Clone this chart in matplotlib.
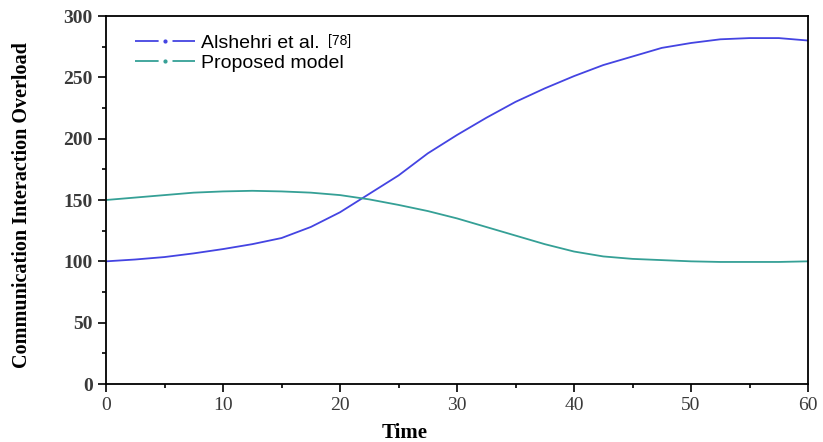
import matplotlib
matplotlib.use('Agg')
from matplotlib import pyplot as plt
from matplotlib.lines import Line2D
from matplotlib.ticker import MultipleLocator

# data
time = [0, 2.5, 5, 7.5, 10, 12.5, 15, 17.5, 20, 22.5, 25, 27.5, 30,
        32.5, 35, 37.5, 40, 42.5, 45, 47.5, 50, 52.5, 55, 57.5, 60]
alshehri = [100, 101.5, 103.5, 106.5, 110, 114, 119, 128, 140, 155, 170, 188, 203,
            217, 230, 241, 251, 260, 267, 274, 278, 281, 282, 282, 280]
proposed = [150, 152, 154, 156, 157, 157.5, 157, 156, 154, 150.5, 146, 141, 135,
            128, 121, 114, 108, 104, 102, 101, 100, 99.5, 99.5, 99.5, 100]

blue = '#4444e2'
teal = '#35a096'
tick_col = '#3a3a3a'

fig = plt.figure(figsize=(8.23, 4.42), dpi=100)
ax = fig.add_axes([0.1288, 0.1312, 0.853, 0.8326])

ax.plot(time, alshehri, color=blue, lw=1.3)
ax.plot(time, proposed, color=teal, lw=1.3)

ax.set_xlim(0, 60)
ax.set_ylim(0, 300)
ax.xaxis.set_major_locator(MultipleLocator(10))
ax.xaxis.set_minor_locator(MultipleLocator(5))
ax.yaxis.set_major_locator(MultipleLocator(50))
ax.yaxis.set_minor_locator(MultipleLocator(25))
ax.tick_params(which='both', direction='out', top=False, right=False, width=1.2)
ax.tick_params(which='major', length=6, labelsize=14, labelcolor=tick_col)
ax.tick_params(which='minor', length=3)
for s in ax.spines.values():
    s.set_linewidth(1.3)
for lab in ax.get_xticklabels() + ax.get_yticklabels():
    lab.set_family('Liberation Serif')
for lab in ax.get_yticklabels():
    lab.set_fontweight('bold')

ax.set_xlabel('Time', family='Liberation Serif', fontweight='bold', fontsize=15)
ax.xaxis.set_label_coords(0.426, -0.105)
ax.set_ylabel('Communication Interaction Overload', family='Liberation Serif',
              fontweight='bold', fontsize=14.5)
ax.yaxis.set_label_coords(-0.106, 0.485)

lw = 1.3
dash = (17 / lw, 10 / lw)
handles = [Line2D([], [], color=blue, ls=(0, dash), marker='.', markersize=4, lw=lw),
           Line2D([], [], color=teal, ls=(0, dash), marker='.', markersize=4, lw=lw)]
leg = ax.legend(handles, ['Alshehri et al.', 'Proposed model'], loc='upper left',
                bbox_to_anchor=(0.041, 0.95), frameon=False, numpoints=1,
                prop={'family': 'Liberation Sans', 'size': 14},
                handlelength=3.1, handletextpad=0.3, borderpad=0,
                borderaxespad=0, labelspacing=0.1)

# small reference tag after the first legend entry
fig.canvas.draw()
bb = leg.get_texts()[0].get_window_extent()
inv = fig.transFigure.inverted()
x1, y1 = inv.transform((bb.x1 + 8, bb.y0 + 4))
fig.text(x1, y1, '[78]', family='Liberation Sans', fontsize=10, va='bottom')

fig.savefig('out.png')
